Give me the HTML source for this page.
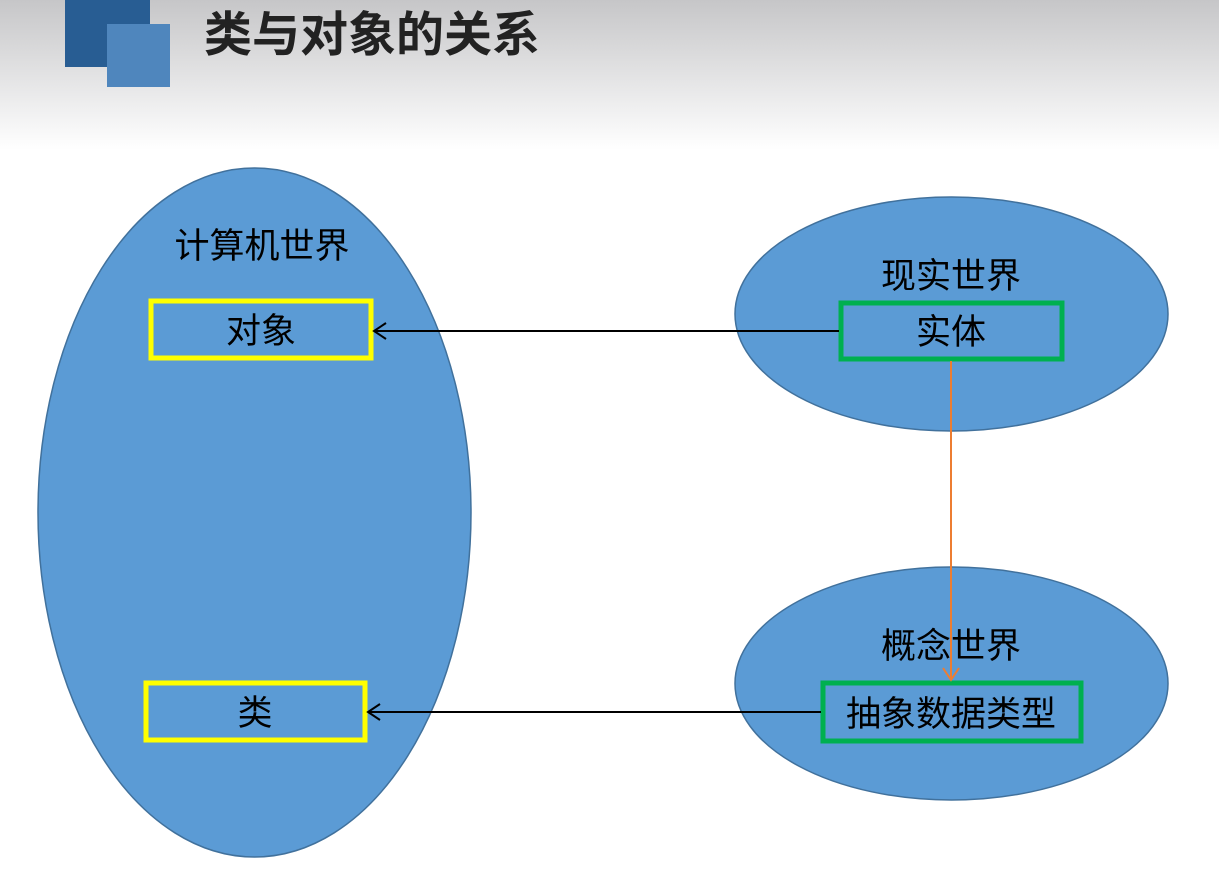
<!DOCTYPE html>
<html><head><meta charset="utf-8"><style>
html,body{margin:0;padding:0;width:1219px;height:876px;overflow:hidden;background:#fff}
</style></head><body>
<svg width="1219" height="876" xmlns="http://www.w3.org/2000/svg" style="display:block">
<defs>
<linearGradient id="g" x1="0" y1="0" x2="0" y2="1">
<stop offset="0" stop-color="#c6c6c8"/><stop offset="1" stop-color="#ffffff"/>
</linearGradient>
</defs>
<rect x="0" y="0" width="1219" height="150" fill="url(#g)"/>
<rect x="65" y="0" width="85" height="67" fill="#285d93"/>
<rect x="107" y="24" width="63" height="63" fill="#4f86bd"/>
<text x="204" y="51" font-family="Liberation Sans, Noto Sans CJK SC, sans-serif" font-size="48" font-weight="bold" fill="#222">类与对象的关系</text>
<g fill="#5b9bd5" stroke="#41719c" stroke-width="1.5">
<ellipse cx="254.5" cy="512.5" rx="216.5" ry="344.5"/>
<ellipse cx="951.5" cy="314" rx="216.5" ry="117"/>
<ellipse cx="951.5" cy="683.5" rx="216.5" ry="116.5"/>
</g>
<g font-family="Liberation Sans, Noto Sans CJK SC, sans-serif" font-size="35" fill="#000" text-anchor="middle">
<text x="262" y="258">计算机世界</text>
<text x="951" y="288">现实世界</text>
<text x="951" y="658">概念世界</text>
</g>
<g fill="none" stroke-width="5">
<rect x="151" y="301" width="220" height="57" stroke="#ffff00"/>
<rect x="146" y="683" width="219" height="57" stroke="#ffff00"/>
<rect x="841" y="303" width="221" height="56" stroke="#00b050"/>
<rect x="823" y="683" width="258" height="58" stroke="#00b050"/>
</g>
<g font-family="Liberation Sans, Noto Sans CJK SC, sans-serif" font-size="35" fill="#000" text-anchor="middle">
<text x="261" y="343">对象</text>
<text x="255" y="725">类</text>
<text x="951" y="344">实体</text>
<text x="951" y="726">抽象数据类型</text>
</g>
<g stroke="#000" stroke-width="2" fill="none">
<line x1="839" y1="331" x2="374" y2="331"/>
<polyline points="386,323 374,331 386,339"/>
<line x1="821" y1="712" x2="368" y2="712"/>
<polyline points="380,704 368,712 380,720"/>
</g>
<g stroke="#ed7d31" stroke-width="2" fill="none">
<line x1="951" y1="361" x2="951" y2="680"/>
<polyline points="943,668 951,680 959,668"/>
</g>
</svg>
</body></html>
